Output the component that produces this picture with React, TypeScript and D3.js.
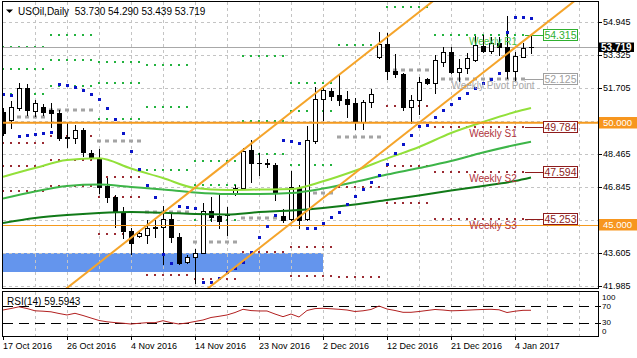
import React from "react";
import * as d3 from "d3";

const W = 637;
const H = 358;

// ---- daily OHLC (bar 0 = 17 Oct 2016) ----
const opens = [
  50.527, 50.134, 50.723, 51.705, 50.576, 50.772, 50.625, 50.478, 49.299, 49.25,
  49.643, 48.514, 48.269, 46.894, 46.354, 45.618, 44.685, 44.439, 44.488, 44.881,
  44.881, 45.274, 44.39, 43.164, 43.409, 43.605, 45.667, 45.421, 45.52, 46.502,
  46.796, 48.661, 48.024, 47.975, 47.925, 45.421, 45.274, 46.796, 45.274, 49.103,
  51.165, 51.558, 51.361, 51.165, 50.968, 50.036, 51.017, 53.227, 53.865, 52.54,
  52.392, 50.772, 51.116, 52.147, 51.95, 52.981, 53.472, 52.49, 52.687, 53.08,
  53.767, 53.521, 53.914, 53.718, 52.54, 53.227, 53.73,
];
const highs = [
  50.723, 51.067, 51.95, 51.901, 51.116, 50.919, 50.968, 50.625, 49.987, 49.888,
  49.741, 48.661, 48.71, 47.287, 46.453, 45.863, 44.832, 44.685, 45.225, 45.225,
  45.912, 45.52, 44.587, 43.507, 43.802, 46.06, 46.354, 46.551, 45.863, 46.943,
  48.76, 49.152, 48.514, 48.22, 48.024, 45.765, 47.631, 46.943, 49.839, 51.754,
  51.754, 51.705, 52.343, 51.558, 51.214, 51.116, 51.656, 54.454, 54.4, 53.374,
  52.441, 51.361, 52.245, 52.196, 53.325, 53.718, 53.718, 53.129, 53.423, 54.258,
  54.307, 54.209, 54.209, 55.24, 53.472, 53.914, 54.29,
];
const lows = [
  49.398, 49.741, 50.625, 50.38, 50.331, 50.38, 49.79, 49.152, 48.808, 49.005,
  48.367, 48.22, 46.551, 46.109, 44.881, 44.341, 43.556, 44.39, 44.096, 44.39,
  43.065, 44.145, 43.065, 43.115, 42.133, 43.605, 45.176, 44.832, 44.488, 46.453,
  46.747, 47.091, 47.434, 47.827, 46.207, 45.127, 45.225, 44.832, 45.225, 49.005,
  50.134, 51.116, 50.87, 50.281, 49.692, 49.692, 50.772, 53.178, 52.147, 52.245,
  50.625, 49.987, 50.429, 51.901, 51.459, 52.785, 52.441, 52.049, 52.441, 53.03,
  53.472, 53.423, 53.325, 52.196, 52.098, 53.227, 53.439,
];
const closes = [
  49.496, 50.772, 51.705, 50.625, 50.968, 50.527, 50.478, 49.25, 49.25, 49.643,
  48.563, 48.318, 46.845, 46.354, 45.618, 44.685, 44.096, 44.587, 44.832, 44.832,
  45.274, 44.39, 43.115, 43.409, 43.605, 45.667, 45.372, 45.176, 45.471, 46.796,
  48.612, 48.024, 48.0, 48.024, 46.6, 45.225, 46.845, 45.225, 49.152, 51.165,
  51.607, 51.312, 51.116, 50.919, 50.036, 51.017, 51.41, 53.865, 52.54, 52.392,
  50.772, 51.116, 51.999, 51.95, 53.08, 53.472, 52.49, 52.687, 53.178, 53.816,
  53.521, 53.914, 53.718, 52.54, 53.276, 53.669, 53.719,
];

// ---- Parabolic SAR ----
const sar = [
  51.396, 51.361, 49.349, 49.398, 49.447, 49.511, 49.56, 51.901, 51.852, 51.739,
  51.631, 51.41, 51.165, 50.723, 50.183, 49.481, 48.627, 47.729, 46.943, 46.369,
  43.556, 43.099, 45.912, 45.878, 45.829, 42.182, 42.182, 42.402, 42.648, 42.869,
  43.164, 43.669, 44.39, 44.93, 45.471, 49.152, 49.103, 49.02, 44.847, 44.847,
  45.092, 45.387, 45.632, 46.011, 46.403, 46.747, 47.105, 47.449, 47.974, 48.529,
  48.956, 49.398, 49.839, 49.888, 50.296, 50.625, 50.92, 51.199, 51.474, 51.72,
  51.965, 52.147, 52.456, 54.439, 55.205, 55.205, 55.127,
];

// ---- RSI(14) ----
const rsi = [
  60.2, 63.6, 67.5, 63.6, 58.4, 57.5, 56.1, 52.3, 48.9, 52.7,
  47.7, 42.0, 36.4, 33.4, 31.6, 30.2, 28.4, 30.0, 31.4, 31.4,
  35.9, 31.4, 28.4, 30.7, 34.1, 37.5, 43.2, 45.9, 48.9, 54.5,
  61.8, 58.9, 58.0, 58.0, 51.1, 45.0, 51.1, 44.3, 59.1, 63.4,
  64.1, 63.0, 61.8, 60.2, 56.8, 58.4, 61.4, 69.3, 62.5, 59.1,
  55.0, 55.0, 56.8, 59.1, 61.4, 60.2, 58.4, 58.9, 59.8, 60.7,
  61.4, 61.8, 60.7, 54.5, 57.5, 59.5, 59.6,
];

// ---- moving averages (read at every 4th bar) ----
const maBars = [0, 4, 8, 12, 16, 20, 24, 28, 32, 36, 40, 44, 48, 52, 56, 60, 64, 66];
const maFast = [47.349, 47.776, 48.171, 48.254, 47.752, 47.285, 46.794, 46.698, 46.72, 46.745, 47.125, 47.645, 48.239, 48.808, 49.495, 50.035, 50.526, 50.723];
const maMid = [46.279, 46.623, 46.893, 46.966, 46.844, 46.72, 46.573, 46.5, 46.5, 46.549, 46.77, 47.089, 47.457, 47.776, 48.12, 48.537, 48.906, 49.068];
const maSlow = [45.076, 45.321, 45.469, 45.567, 45.616, 45.582, 45.518, 45.494, 45.616, 45.69, 45.813, 45.984, 46.205, 46.426, 46.672, 46.893, 47.138, 47.31];

// ---- weekly pivots ----
const weekStart = [0, 6, 12, 18, 24, 30, 36, 42, 48, 54];
const weekEnd = [5, 11, 17, 23, 29, 35, 41, 47, 53, 66];
const pivR3 = [53.732, 54.307, 52.981, 52.834, 48.097, 53.276, 51.95, null, null, null];
const pivR2 = [52.638, 53.08, 51.965, 50.748, 46.943, 50.1, 50.576, null, null, null];
const pivR1 = [51.396, 51.803, 50.183, 47.655, 45.225, 48.45, 47.925, 53.84, 55.681, 54.315];
const pivP = [50.267, 50.625, 49.118, 45.618, 44.13, 45.299, 46.526, 49.3, 52.613, 52.125];
const pivS1 = [49.005, 49.349, 47.351, 42.501, 42.329, 43.63, 43.9, 46.845, 50.821, 49.784];
const pivS2 = [47.891, 48.171, 46.33, null, null, null, 42.476, 42.427, 47.876, 47.594];
const pivS3 = [46.649, 46.894, 44.538, null, null, null, null, null, 46.06, 45.253];

// ---- drawn objects ----
const upperTrendBars = [8, 48];
const upperTrendPrices = [41.887, 54.199];
const lowerTrendBars = [26, 66];
const lowerTrendPrices = [41.985, 54.302];
const zonePrices = [42.687, 43.62];
const zoneEndBar = 40;
const levelPrices = [50.0, 45.0];
const lastPrice = 53.719;

// ---- axes ----
const priceTicks = [54.945, 53.325, 51.705, 50.085, 48.465, 46.845, 45.225, 43.605, 41.985];
const dateLabels = ["17 Oct 2016", "26 Oct 2016", "4 Nov 2016", "14 Nov 2016", "23 Nov 2016", "2 Dec 2016", "12 Dec 2016", "21 Dec 2016", "4 Jan 2017"];
const dateBars = [0, 8, 16, 24, 32, 40, 48, 56, 64];
const rsiLevels = [70, 30];
const rsiAxisLabels = ["100", "70", "30", "0"];
const rsiAxisValues = [100, 70, 30, 0];

const FONT = "'Liberation Sans', Arial, sans-serif";

export default function App() {
  const x = d3.scaleLinear().domain([0, 66]).range([3, 531]);
  const y = d3.scaleLinear().domain([41.985, 54.945]).range([286, 22]);
  const yR = d3.scaleLinear().domain([0, 100]).range([336.5, 292.5]);
  const fmt = d3.format(".3f");
  const cr = (v: number) => Math.round(v) + 0.5;

  const gridXs = d3.range(4, 73, 4).map((b) => cr(x(b)));

  const maLine = (vals: number[]) =>
    d3.line<number>().x((_, i) => x(maBars[i])).y((d) => y(d)).curve(d3.curveMonotoneX)(vals) || "";

  const trendPath = (bars: number[], prices: number[]) => {
    const slope = (prices[1] - prices[0]) / (bars[1] - bars[0]);
    const b0 = x.invert(-20);
    const b1 = x.invert(660);
    return d3.line<number>().x((b) => x(b)).y((b) => y(prices[0] + (b - bars[0]) * slope))([b0, b1]) || "";
  };

  const rsiPath = d3.line<number>().x((_, i) => x(i)).y((d) => yR(d))(rsi) || "";

  const levelDefs = [
    { vals: pivR3, color: "#22b23e", w: 2, h: 2 },
    { vals: pivR2, color: "#22b23e", w: 2, h: 2 },
    { vals: pivR1, color: "#22b23e", w: 2, h: 2 },
    { vals: pivP, color: "#a4a4a4", w: 4, h: 3 },
    { vals: pivS1, color: "#9a2a32", w: 2, h: 2 },
    { vals: pivS2, color: "#9a2a32", w: 2, h: 2 },
    { vals: pivS3, color: "#9a2a32", w: 2, h: 2 },
  ];

  const lastW = weekStart.length - 1;
  const currentLabels = [
    { name: "Weekly R1", val: pivR1[lastW] as number, text: "#45c445", box: "#2fb02f" },
    { name: "Weekly Pivot Point", val: pivP[lastW] as number, text: "#a8a8a8", box: "#a0a0a0" },
    { name: "Weekly S1", val: pivS1[lastW] as number, text: "#b0343c", box: "#8e1c1c" },
    { name: "Weekly S2", val: pivS2[lastW] as number, text: "#b0343c", box: "#8e1c1c" },
    { name: "Weekly S3", val: pivS3[lastW] as number, text: "#b0343c", box: "#8e1c1c" },
  ];

  const dots: React.ReactNode[] = [];
  levelDefs.forEach((ld, li) => {
    ld.vals.forEach((v, w) => {
      if (v === null) return;
      const endB = w === lastW ? weekEnd[w] - 1 : weekEnd[w];
      for (let b = weekStart[w]; b <= endB; b++) {
        dots.push(
          <rect key={`d${li}-${w}-${b}`} x={Math.round(x(b)) - ld.w / 2} y={Math.round(y(v as number)) - ld.h / 2}
            width={ld.w} height={ld.h} fill={ld.color} />
        );
      }
    });
  });

  // tick labels hidden behind the level boxes in the reference are not drawn
  const hiddenTick = (t: number) => levelPrices.some((lp) => Math.abs(y(lp) - y(t)) < 6);

  return (
    <svg width={W} height={H} style={{ position: "fixed", left: 0, top: 0, background: "#fff" }} fontFamily={FONT}>
      <defs>
        <clipPath id="pc"><rect x={3} y={2} width={595} height={286} /></clipPath>
        <clipPath id="rc"><rect x={3} y={292} width={595} height={44} /></clipPath>
      </defs>
      <rect x={0} y={0} width={W} height={H} fill="#fff" />

      <g clipPath="url(#pc)">
        {/* zone */}
        <rect x={0} y={Math.round(y(zonePrices[1]))} width={Math.round(x(zoneEndBar))}
          height={Math.round(y(zonePrices[0])) - Math.round(y(zonePrices[1]))} fill="#6495ed" />
        {/* grid */}
        {gridXs.map((gx, i) => (
          <line key={`gx${i}`} x1={gx} x2={gx} y1={2} y2={288} stroke="#c4c4c4" strokeDasharray="3,3" />
        ))}
        {priceTicks.map((t, i) => (
          <line key={`gy${i}`} x1={3} x2={598} y1={cr(y(t))} y2={cr(y(t))} stroke="#c4c4c4" strokeDasharray="3,3" />
        ))}
        {/* pivots */}
        {dots}
        {currentLabels.map((c, i) => (
          <line key={`cl${i}`} x1={x(weekEnd[lastW] - 1) + 2} x2={543} y1={cr(y(c.val))} y2={cr(y(c.val))} stroke={c.box} />
        ))}
        {/* current price line */}
        <line x1={3} x2={598} y1={cr(y(lastPrice))} y2={cr(y(lastPrice))} stroke="#a8a8a8" />
        {/* candles */}
        {opens.map((o, i) => {
          const c = closes[i];
          const cx = Math.round(x(i));
          const top = Math.round(y(Math.max(o, c)));
          const bot = Math.round(y(Math.min(o, c)));
          const bull = c > o;
          return (
            <g key={`c${i}`}>
              <line x1={cx + 0.5} x2={cx + 0.5} y1={Math.round(y(highs[i]))} y2={Math.round(y(lows[i])) + 1} stroke="#000" />
              {bot - top < 1 ? (
                <line x1={cx - 2} x2={cx + 3} y1={top + 0.5} y2={top + 0.5} stroke="#000" />
              ) : bull ? (
                <rect x={cx - 1.5} y={top + 0.5} width={4} height={bot - top} fill="#fff" stroke="#000" />
              ) : (
                <rect x={cx - 2} y={top} width={5} height={bot - top + 1} fill="#000" />
              )}
            </g>
          );
        })}
        {/* moving averages */}
        <path d={maLine(maSlow)} fill="none" stroke="#117a18" strokeWidth={2} />
        <path d={maLine(maMid)} fill="none" stroke="#3db548" strokeWidth={2} />
        <path d={maLine(maFast)} fill="none" stroke="#92e03a" strokeWidth={2} />
        {/* horizontal levels */}
        <line x1={3} x2={598} y1={y(levelPrices[0])} y2={y(levelPrices[0])} stroke="#f59a1e" strokeWidth={2.2} />
        <line x1={3} x2={598} y1={cr(y(levelPrices[1]))} y2={cr(y(levelPrices[1]))} stroke="#f59a1e" strokeWidth={1} />
        {/* SAR */}
        {sar.map((s, i) => (
          <rect key={`s${i}`} x={Math.round(x(i)) - 1} y={Math.round(y(s)) - 1} width={3} height={3} fill="#0a14c8" />
        ))}
        {/* trend channel */}
        <path d={trendPath(upperTrendBars, upperTrendPrices)} stroke="#f5a42a" strokeWidth={2} fill="none" />
        <path d={trendPath(lowerTrendBars, lowerTrendPrices)} stroke="#f5a42a" strokeWidth={2} fill="none" />
        {/* pivot labels */}
        {currentLabels.map((c, i) => (
          <g key={`lb${i}`}>
            <text x={493} y={y(c.val) + 10} textAnchor="middle" fontSize={10} fill={c.text}>{c.name}</text>
            <rect x={543.5} y={Math.round(y(c.val)) - 5.5} width={34} height={11} fill="#fff" stroke={c.box} />
            <text x={560.5} y={Math.round(y(c.val)) + 4} textAnchor="middle" fontSize={10.5} fill={c.text === "#a8a8a8" ? "#a0a0a0" : c.box}>{fmt(c.val)}</text>
          </g>
        ))}
      </g>

      {/* main frame */}
      <rect x={2.5} y={1.5} width={596} height={287} fill="none" stroke="#000" />
      {/* price axis */}
      {priceTicks.map((t, i) => (
        <g key={`pt${i}`}>
          <line x1={598} x2={602} y1={cr(y(t))} y2={cr(y(t))} stroke="#000" />
          {!hiddenTick(t) && <text x={603} y={y(t) + 3.3} fontSize={9} fill="#000">{fmt(t)}</text>}
        </g>
      ))}
      {/* price boxes */}
      <rect x={599} y={Math.round(y(lastPrice)) - 4.5} width={35} height={9.5} fill="#000" />
      <text x={601} y={y(lastPrice) + 3.6} fontSize={10} fontWeight="bold" fill="#fff">{fmt(lastPrice)}</text>
      {levelPrices.map((lp, i) => (
        <g key={`lv${i}`}>
          <rect x={599} y={Math.round(y(lp)) - 6} width={38} height={11.5} fill="#f7961e" />
          <text x={603} y={y(lp) + 3.3} fontSize={9.5} fill="#fff">{fmt(lp)}</text>
        </g>
      ))}

      {/* RSI panel */}
      <g clipPath="url(#rc)">
        {gridXs.map((gx, i) => (
          <line key={`rg${i}`} x1={gx} x2={gx} y1={292} y2={336} stroke="#c4c4c4" strokeDasharray="3,3" />
        ))}
        {rsiLevels.map((lv, i) => (
          <line key={`rl${i}`} x1={3} x2={598} y1={cr(yR(lv))} y2={cr(yR(lv))} stroke="#000" strokeDasharray="10,6" />
        ))}
        <path d={rsiPath} fill="none" stroke="#b22020" strokeWidth={1} />
      </g>
      <rect x={2.5} y={291.5} width={596} height={45} fill="none" stroke="#000" />
      <text x={7} y={304.5} fontSize={10} fill="#000">RSI(14) 59.5943</text>
      {rsiAxisValues.map((v, i) => {
        const yy = v === 100 ? 299.5 : v === 0 ? 334 : yR(v) + (v === 70 ? 3.2 : 1.2);
        return (
          <text key={`ra${i}`} x={602} y={yy} fontSize={8} fill="#000">{rsiAxisLabels[i]}</text>
        );
      })}
      {rsiLevels.map((lv, i) => (
        <line key={`rt${i}`} x1={598} x2={601} y1={cr(yR(lv))} y2={cr(yR(lv))} stroke="#000" />
      ))}

      {/* date axis */}
      {dateBars.map((b, i) => (
        <g key={`dt${i}`}>
          <line x1={cr(x(b))} x2={cr(x(b))} y1={337} y2={340} stroke="#000" />
          <text x={Math.round(x(b))} y={348.5} fontSize={9} fill="#000">{dateLabels[i]}</text>
        </g>
      ))}

      {/* title */}
      <polygon points="6,9.5 13,9.5 9.5,13" fill="#000" />
      <text x={18} y={14.5} fontSize={10} fill="#000" xmlSpace="preserve">
        {`USOil,Daily  ${fmt(opens[66])} ${fmt(highs[66])} ${fmt(lows[66])} ${fmt(closes[66])}`}
      </text>
    </svg>
  );
}
